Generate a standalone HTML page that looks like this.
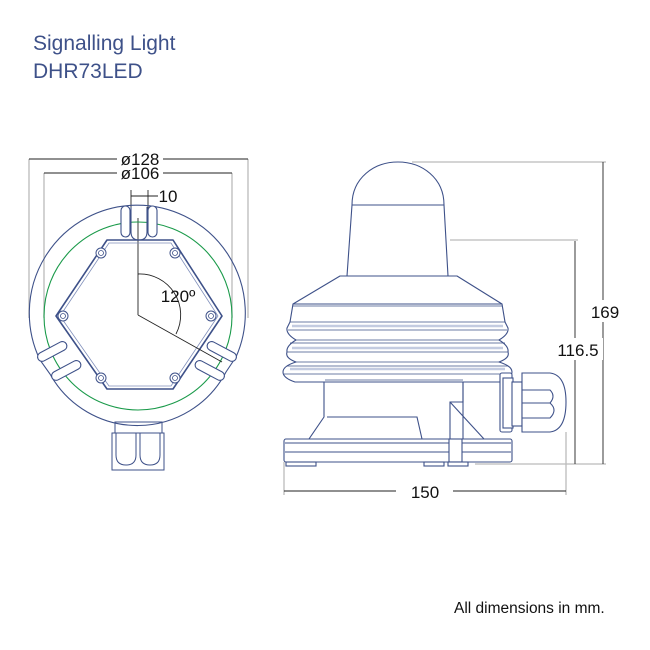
<!DOCTYPE html>
<html><head><meta charset="utf-8"><style>
html,body{margin:0;padding:0;background:#fff}
svg{display:block}
text{font-family:"Liberation Sans",sans-serif}
</style></head><body>
<svg width="650" height="650" viewBox="0 0 650 650" xmlns="http://www.w3.org/2000/svg">
<rect width="650" height="650" fill="#fff"/>
<text x="33" y="50" font-size="21" fill="#3e5189">Signalling Light</text>
<text x="33" y="78" font-size="21" fill="#3e5189">DHR73LED</text>
<text x="454" y="613" font-size="15.5" fill="#111">All dimensions in mm.</text>

<!-- FRONT VIEW -->
<g fill="none" stroke="#bbb" stroke-width="1.3">
<line x1="29" y1="159" x2="29" y2="318"/><line x1="248" y1="159" x2="248" y2="318"/>
<line x1="44" y1="173" x2="44" y2="318"/><line x1="232" y1="173" x2="232" y2="318"/>
</g>
<g stroke="#222" stroke-width="0.9" fill="none">
<line x1="29" y1="159" x2="117" y2="159"/><line x1="163" y1="159" x2="248" y2="159"/>
<line x1="44" y1="173" x2="117" y2="173"/><line x1="163" y1="173" x2="232" y2="173"/>
<line x1="131" y1="190" x2="131" y2="232"/><line x1="148" y1="190" x2="148" y2="232"/>
<line x1="131" y1="196" x2="158" y2="196"/>
<line x1="138" y1="218" x2="138" y2="315"/>
<path d="M138,274 A41,41 0 0 1 176,334"/>
</g>
<g font-size="17" fill="#111" text-anchor="middle">
<text x="140" y="165">ø128</text>
<text x="140" y="179">ø106</text>
<text x="168" y="202">10</text>
<text x="178" y="302">120º</text>
</g>
<g fill="none" stroke="#3e5189" stroke-width="1.1">
<path d="M40,360 A108,108 0 1 1 236,357 L226,372 A100,100 0 0 1 50,374 Z"/>
</g>
<circle cx="138" cy="316" r="94" fill="none" stroke="#1a9a4a" stroke-width="1.1"/>
<g fill="#fff" stroke="#3e5189" stroke-width="1.1">
<rect x="121" y="206" width="9" height="31" rx="4.5"/>
<rect x="148" y="206" width="9" height="31" rx="4.5"/>
<path d="M131,207 L131,232 Q131,240 139,240 Q147,240 147,232 L147,207" fill="none"/>
<rect x="36" y="347" width="32" height="9" rx="4.5" transform="rotate(-28 52 351)"/>
<rect x="50" y="366" width="32" height="9" rx="4.5" transform="rotate(-28 66 370)"/>
<rect x="206" y="347" width="32" height="9" rx="4.5" transform="rotate(28 222 351)"/>
<rect x="194" y="366" width="32" height="9" rx="4.5" transform="rotate(28 210 370)"/>
</g>
<g fill="none" stroke="#3e5189" stroke-width="1.6">
<path d="M107,240 L173,240 L222,316 L173,389 L107,389 L56,316 Z" stroke-linejoin="round"/>
</g>
<g fill="none" stroke="#8190bb" stroke-width="0.8">
<path d="M109,243 L171,243 L218,316 L171,386 L109,386 L60,316 Z"/>
</g>
<g fill="#fff" stroke="#3e5189" stroke-width="1">
<circle cx="101" cy="253" r="5"/><circle cx="175" cy="253" r="5"/>
<circle cx="63" cy="316" r="5"/><circle cx="211" cy="316" r="5"/>
<circle cx="101" cy="378" r="5"/><circle cx="175" cy="378" r="5"/>
</g>
<g fill="none" stroke="#3e5189" stroke-width="0.8">
<circle cx="101" cy="253" r="2.5"/><circle cx="175" cy="253" r="2.5"/>
<circle cx="63" cy="316" r="2.5"/><circle cx="211" cy="316" r="2.5"/>
<circle cx="101" cy="378" r="2.5"/><circle cx="175" cy="378" r="2.5"/>
</g>
<line x1="138" y1="315" x2="222" y2="362" stroke="#222" stroke-width="0.9"/>
<g fill="none" stroke="#3e5189" stroke-width="1">
<rect x="115" y="422" width="47" height="11"/>
<rect x="112" y="433" width="52" height="37"/>
<path d="M116,433 L116,455 Q116,465 126,465 Q136,465 136,455 L136,433"/>
<path d="M140,433 L140,455 Q140,465 150,465 Q160,465 160,455 L160,433"/>
</g>

<!-- SIDE VIEW dims -->
<g fill="none" stroke="#bbb" stroke-width="1.3">
<line x1="412" y1="162" x2="606" y2="162"/>
<line x1="450" y1="240" x2="578" y2="240"/>
<line x1="475" y1="464" x2="606" y2="464"/>
<line x1="284" y1="462" x2="284" y2="495"/>
<line x1="566" y1="432" x2="566" y2="495"/>
</g>
<g stroke="#222" stroke-width="0.9">
<line x1="603" y1="162" x2="603" y2="464"/>
<line x1="575" y1="241" x2="575" y2="464"/>
<line x1="284" y1="491" x2="396" y2="491"/><line x1="453" y1="491" x2="566" y2="491"/>
</g>
<rect x="588" y="300" width="34" height="22" fill="#fff"/>
<rect x="553" y="338" width="50" height="22" fill="#fff"/>
<g font-size="17" fill="#111" text-anchor="middle">
<text x="605" y="318">169</text>
<text x="578" y="356">116.5</text>
<text x="425" y="498">150</text>
</g>

<!-- SIDE VIEW body -->
<g fill="#fff" stroke="#3e5189" stroke-width="1.1" stroke-linejoin="round">
<path d="M352,205 C352,178 374,162 398,162 C422,162 444,178 444,205 Z"/>
<path d="M352,205 L347,276 L448,276 L444,205 Z"/>
<path d="M340,276 L457,276 L502,304 L293,304 Z"/>
<path d="M293,304 L290,322 L287,328 Q286,334 296,340 Q286,346 287,352 Q285,358 296,362 Q283,366 283,372 Q283,378 295,382 L500,382 Q512,378 512,372 Q512,366 499,362 Q510,358 508,352 Q509,346 499,340 Q509,334 508,328 L505,322 L502,304 Z"/>
</g>
<g stroke="#c3cbe0" stroke-width="2.5">
<line x1="292" y1="326" x2="503" y2="326"/>
<line x1="292" y1="348" x2="503" y2="348"/>
<line x1="290" y1="369" x2="505" y2="369"/>
</g>
<g stroke="#3e5189" stroke-width="0.8">
<line x1="293" y1="306" x2="502" y2="306"/>
<line x1="290" y1="322" x2="505" y2="322"/>
<line x1="288" y1="330" x2="507" y2="330"/>
<line x1="296" y1="340" x2="499" y2="340"/>
<line x1="290" y1="343" x2="505" y2="343"/>
<line x1="287" y1="352" x2="508" y2="352"/>
<line x1="296" y1="362" x2="499" y2="362"/>
<line x1="287" y1="366" x2="508" y2="366"/>
<line x1="284" y1="374" x2="511" y2="374"/>
<line x1="325" y1="380" x2="463" y2="380"/>
</g>
<g fill="#fff" stroke="#3e5189" stroke-width="1.1">
<path d="M324,382 L324,417 L309,439 L450,439 L450,402 L463,402 L463,382 Z"/>
<path d="M327,417 L417,417 L422,439"/>
<path d="M450,402 L484,439"/>
<line x1="463" y1="382" x2="463" y2="439"/>
<rect x="284" y="439" width="228" height="23" rx="2"/>
<line x1="285" y1="443" x2="511" y2="443"/>
<line x1="285" y1="452" x2="511" y2="452"/>
<rect x="449" y="439" width="13" height="23"/>
<rect x="286" y="462" width="30" height="4"/>
<rect x="424" y="462" width="20" height="4"/>
<rect x="448" y="462" width="20" height="4"/>
<rect x="500" y="373" width="12" height="59" rx="2"/>
<rect x="503" y="378" width="10" height="50"/>
<rect x="512" y="382" width="10" height="44"/>
<path d="M522,373 L550,373 Q566,375 566,402 Q566,430 550,432 L522,432 Z"/>
<path d="M522,390 L550,390 Q556,396 550,403 L522,403" fill="none"/>
<path d="M522,403 L550,403 Q558,410 550,418 L522,418" fill="none"/>
</g>
</svg>
</body></html>
